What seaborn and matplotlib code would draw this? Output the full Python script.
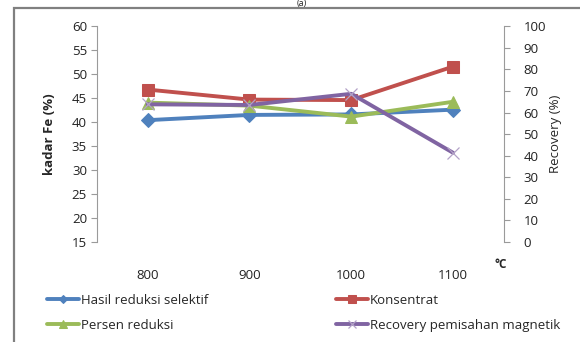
import matplotlib
matplotlib.use("Agg")
import matplotlib.pyplot as plt
import matplotlib.patches as mpatches
import seaborn as sns
import numpy as np

# Temperatures (°C) of the selective reduction runs
suhu = ["800", "900", "1000", "1100"]

# Fe content (%), left axis
hasil_reduksi_selektif = [40.4, 41.5, 41.6, 42.6]
konsentrat = [46.8, 44.7, 44.6, 51.6]

# Percentages on the recovery axis (right)
persen_reduksi = [64.6, 63.2, 58.1, 65.0]
recovery_magnetik = [63.8, 63.5, 68.7, 41.3]

left_ticks = list(range(15, 61, 5))
right_ticks = list(range(0, 101, 10))

sns.set_style("white")
plt.rcParams["font.family"] = ["Open Sans", "DejaVu Sans"]

fig = plt.figure(figsize=(5.8, 3.42), dpi=100)
ax = fig.add_axes([96.7 / 580, 1 - 241.7 / 342, (504 - 96.7) / 580, (241.7 - 26.4) / 342])
ax2 = ax.twinx()

x = np.arange(len(suhu))
blue, red, green, purple = "#4F81BD", "#C0504D", "#9BBB59", "#8064A2"

sns.lineplot(x=x, y=hasil_reduksi_selektif, ax=ax, color=blue, lw=2.8,
             marker="D", markersize=7, markeredgecolor=blue, label="Hasil reduksi selektif", legend=False)
sns.lineplot(x=x, y=konsentrat, ax=ax, color=red, lw=2.8,
             marker="s", markersize=9, markeredgecolor=red, label="Konsentrat", legend=False)
sns.lineplot(x=x, y=persen_reduksi, ax=ax2, color=green, lw=2.8,
             marker="^", markersize=9, markeredgecolor=green, label="Persen reduksi", legend=False)
sns.lineplot(x=x, y=recovery_magnetik, ax=ax2, color=purple, lw=2.8,
             marker="x", markersize=9, markeredgewidth=0.9, markeredgecolor="#B3A2C7",
             label="Recovery pemisahan magnetik", legend=False)

ax.set_xlim(-0.5, 3.5)
ax.set_ylim(15, 60)
ax2.set_ylim(0, 100)
ax.set_yticks(left_ticks)
ax2.set_yticks(right_ticks)
ax.set_xticks(x)
ax.set_xticklabels(suhu)

axis_grey = "#9a9a9a"
for a in (ax, ax2):
    for s in a.spines.values():
        s.set_visible(False)
ax.spines["left"].set_visible(True)
ax.spines["left"].set_color(axis_grey)
ax2.spines["right"].set_visible(True)
ax2.spines["right"].set_color(axis_grey)

tick_font = 9.5
ax.tick_params(axis="y", direction="out", length=4, width=0.8, color=axis_grey,
               labelsize=tick_font, labelcolor="#222222", pad=3, left=True)
ax2.tick_params(axis="y", direction="out", length=4, width=0.8, color=axis_grey,
                labelsize=tick_font, labelcolor="#222222", pad=10, right=True)
ax.tick_params(axis="x", length=0, labelsize=tick_font, labelcolor="#222222", pad=20)

ax.set_ylabel("kadar Fe (%)", fontsize=9.5, fontweight="bold", labelpad=11)
ax2.set_ylabel("Recovery (%)", fontsize=9.5, labelpad=2)
ax.set_xlabel("")
fig.text(501 / 580, 1 - 264 / 342, "°C", fontsize=8.5, fontweight="bold", ha="center", va="center")

# Small caption above the frame
fig.text(302 / 580, 1 - 3.5 / 342, "(a)", fontsize=6.5, ha="center", va="center")

# Outer chart frame
fig.add_artist(mpatches.Rectangle((14 / 580, -0.1), 1.0, 1 - 8 / 342 + 0.1,
                                  transform=fig.transFigure, fill=False,
                                  edgecolor="#808080", lw=1.6))

h1, l1 = ax.get_legend_handles_labels()
h2, l2 = ax2.get_legend_handles_labels()
handles = [h1[0], h2[0], h1[1], h2[1]]
labels = [l1[0], l2[0], l1[1], l2[1]]
fig.legend(handles, labels, ncol=2, loc="upper left",
           bbox_to_anchor=(47 / 580, 1 - 294 / 342), frameon=False,
           fontsize=9.5, handlelength=2.4, handletextpad=0.15, markerscale=0.65,
           columnspacing=9.7, labelspacing=0.9, borderpad=0, borderaxespad=0)

fig.savefig("out.png", dpi=100)
